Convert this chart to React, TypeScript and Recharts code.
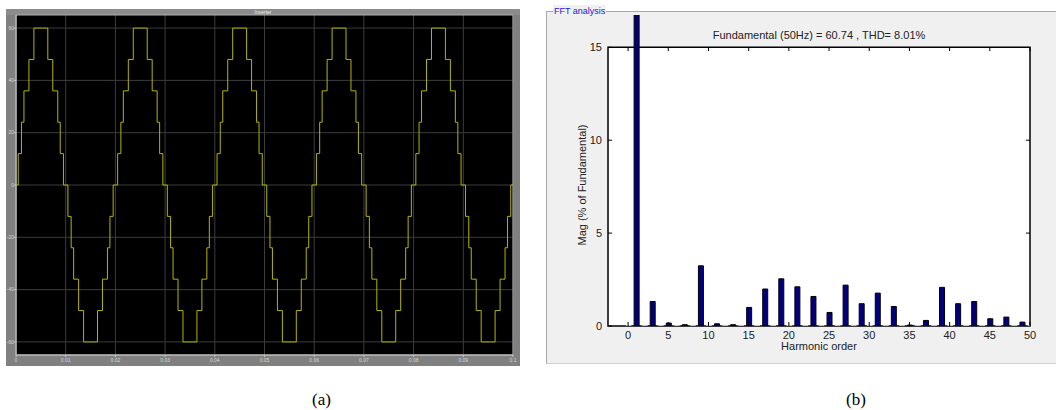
import React from "react";
import {
  LineChart,
  Line,
  XAxis,
  YAxis,
  CartesianGrid,
  ReferenceArea,
  ReferenceLine,
  ComposedChart,
  Bar,
  Cell,
} from "recharts";

// ---- (a) inverter output voltage, one cycle of the staircase (ms / V)
const stepTimesMs = [0, 0.45, 1.1, 1.6, 2.6, 3.6, 6.4, 7.4, 8.4, 8.9, 9.55, 10.45, 11.1, 11.6, 12.6, 13.6, 16.4, 17.4, 18.4, 18.9, 19.55];
const stepLevels = [0, 12, 24, 36, 48, 60, 48, 36, 24, 12, 0, -12, -24, -36, -48, -60, -48, -36, -24, -12, 0];
const cycleStarts = [0, 0.02, 0.04, 0.06, 0.08];
const timeTicks = [0, 0.01, 0.02, 0.03, 0.04, 0.05, 0.06, 0.07, 0.08, 0.09, 0.1];
const voltTicks = [-60, -40, -20, 0, 20, 40, 60];

// ---- (b) FFT spectrum, % of fundamental
const harmonicOrders = [0, 1, 2, 3, 4, 5, 6, 7, 8, 9, 10, 11, 12, 13, 14, 15, 16, 17, 18, 19, 20, 21, 22, 23, 24, 25, 26, 27, 28, 29, 30, 31, 32, 33, 34, 35, 36, 37, 38, 39, 40, 41, 42, 43, 44, 45, 46, 47, 48, 49, 50];
const magnitudes = [0.02, 100, 0.03, 1.32, 0.03, 0.16, 0.03, 0.07, 0.03, 3.24, 0.03, 0.12, 0.03, 0.07, 0.03, 1.0, 0.03, 1.99, 0.03, 2.54, 0.03, 2.11, 0.03, 1.59, 0.03, 0.73, 0.03, 2.2, 0.03, 1.2, 0.03, 1.77, 0.03, 1.05, 0.03, 0.05, 0.03, 0.3, 0.03, 2.08, 0.03, 1.2, 0.03, 1.32, 0.03, 0.39, 0.03, 0.48, 0.03, 0.21, 0.03];
const harmonicTicks = [0, 5, 10, 15, 20, 25, 30, 35, 40, 45, 50];
const magTicks = [0, 5, 10, 15];
const fftTitle = "Fundamental (50Hz) = 60.74 , THD= 8.01%";

const waveData: { t: number; v: number }[] = [];
cycleStarts.forEach((c) => {
  stepTimesMs.forEach((ms, i) => waveData.push({ t: c + ms / 1000, v: stepLevels[i] }));
});
waveData.push({ t: 0.1, v: 0 });

const fftData = harmonicOrders.map((h, i) => ({ h, mag: magnitudes[i] }));

const sans = "'Liberation Sans', Arial, sans-serif";

const ScopePanel = () => (
  <div style={{ position: "absolute", left: 6, top: 9, width: 514, height: 357, background: "#808080" }}>
    <div style={{ position: "absolute", left: 0, top: 0, width: 514, height: 6, background: "#8c8c8c" }} />
    <div
      style={{
        position: "absolute",
        left: 0,
        top: 0,
        width: 514,
        textAlign: "center",
        fontFamily: sans,
        fontSize: 5,
        lineHeight: "6px",
        color: "#f0f0f0",
      }}
    >
      Inverter
    </div>
    <LineChart width={514} height={357} data={waveData} margin={{ top: 6, right: 7, bottom: 0, left: 0 }}>
      <CartesianGrid fill="#000" stroke="#3c3c3c" horizontalValues={voltTicks} verticalValues={timeTicks} />
      <XAxis
        dataKey="t"
        type="number"
        domain={[0, 0.1]}
        ticks={timeTicks}
        height={11}
        tick={{ fontSize: 5, fill: "#d8d8d8", fontFamily: sans }}
        tickSize={2}
        tickMargin={1}
        stroke="#c8c8c8"
      />
      <YAxis
        type="number"
        domain={[-65, 65]}
        ticks={voltTicks}
        width={10}
        tick={{ fontSize: 5, fill: "#d8d8d8", fontFamily: sans }}
        tickSize={2}
        tickMargin={0}
        stroke="#c8c8c8"
      />
      <ReferenceArea x1={0} x2={0.1} y1={-65} y2={65} fill="none" stroke="#b0b0b0" strokeWidth={1} />
      <Line
        type="stepAfter"
        dataKey="v"
        stroke="#b4b400"
        strokeWidth={1}
        dot={false}
        isAnimationActive={false}
      />
    </LineChart>
  </div>
);

const FftPanel = () => (
  <div style={{ position: "absolute", left: 546, top: 11, width: 510, height: 353, background: "#f0f0f0" }}>
    <div
      style={{
        position: "absolute",
        left: 0,
        top: 0,
        width: 509,
        height: 351,
        borderTop: "1px solid #a8a8a8",
        borderLeft: "1px solid #a8a8a8",
        borderBottom: "1px solid #d0d0d0",
      }}
    />
    <div
      style={{
        position: "absolute",
        left: 7,
        top: -6,
        padding: "0 1px",
        background: "#f0f0f0",
        color: "#1a1ae0",
        fontFamily: sans,
        fontSize: 9,
        lineHeight: "12px",
      }}
    >
      FFT analysis
    </div>
    <ComposedChart width={510} height={353} data={fftData} margin={{ top: 4, right: 26, bottom: 0, left: 0 }}>
      <XAxis
        dataKey="h"
        type="number"
        domain={[-2.5, 50]}
        allowDataOverflow
        ticks={harmonicTicks}
        height={38}
        axisLine={false}
        tickSize={-4}
        tickMargin={9}
        tickLine={{ stroke: "#000" }}
        tick={{ fontSize: 11, fill: "#222", fontFamily: sans }}
      />
      <YAxis
        type="number"
        domain={[0, 16.74]}
        allowDataOverflow
        ticks={magTicks}
        width={62}
        axisLine={false}
        tickSize={-4}
        tickMargin={10}
        tickLine={{ stroke: "#000" }}
        tick={{ fontSize: 11, fill: "#222", fontFamily: sans }}
      />
      <ReferenceArea x1={-2.5} x2={50} y1={0} y2={15} fill="#fff" fillOpacity={1} stroke="none" />
      <Bar dataKey="mag" barSize={5} isAnimationActive={false}>
        {fftData.map((d) => (
          <Cell
            key={d.h}
            fill={d.h % 2 === 1 ? "#00007f" : "#c4c4c4"}
            stroke={d.h % 2 === 1 ? "#000" : "#c4c4c4"}
            strokeWidth={1}
          />
        ))}
      </Bar>
      <ReferenceArea x1={-2.5} x2={50} y1={0} y2={15} fill="none" stroke="#000" strokeWidth={1.5} />
      {harmonicTicks.map((t) => (
        <ReferenceLine
          key={"tt" + t}
          segment={[{ x: t, y: 15 }, { x: t, y: 14.8 }]}
          stroke="#000"
        />
      ))}
      {[5, 10].map((v) => (
        <ReferenceLine
          key={"rt" + v}
          segment={[{ x: 50, y: v }, { x: 49.5, y: v }]}
          stroke="#000"
        />
      ))}
    </ComposedChart>
    <div
      style={{
        position: "absolute",
        left: 62,
        top: 18,
        width: 422,
        textAlign: "center",
        fontFamily: sans,
        fontSize: 11,
        color: "#222",
      }}
    >
      {fftTitle}
    </div>
    <div
      style={{
        position: "absolute",
        left: 62,
        top: 329,
        width: 422,
        textAlign: "center",
        fontFamily: sans,
        fontSize: 11,
        color: "#222",
      }}
    >
      Harmonic order
    </div>
    <div
      style={{
        position: "absolute",
        left: 36 - 100,
        top: 175 - 7,
        width: 200,
        textAlign: "center",
        fontFamily: sans,
        fontSize: 11,
        color: "#222",
        transform: "rotate(-90deg)",
      }}
    >
      Mag (% of Fundamental)
    </div>
  </div>
);

export default function App() {
  return (
    <div style={{ position: "absolute", left: 0, top: 0, width: 1056, height: 410, background: "#fff", overflow: "hidden" }}>
      <ScopePanel />
      <FftPanel />
      <div style={{ position: "absolute", left: 312, top: 390, fontFamily: "'Liberation Serif', 'Times New Roman', serif", fontSize: 17 }}>
        (a)
      </div>
      <div style={{ position: "absolute", left: 846, top: 390, fontFamily: "'Liberation Serif', 'Times New Roman', serif", fontSize: 17 }}>
        (b)
      </div>
    </div>
  );
}
